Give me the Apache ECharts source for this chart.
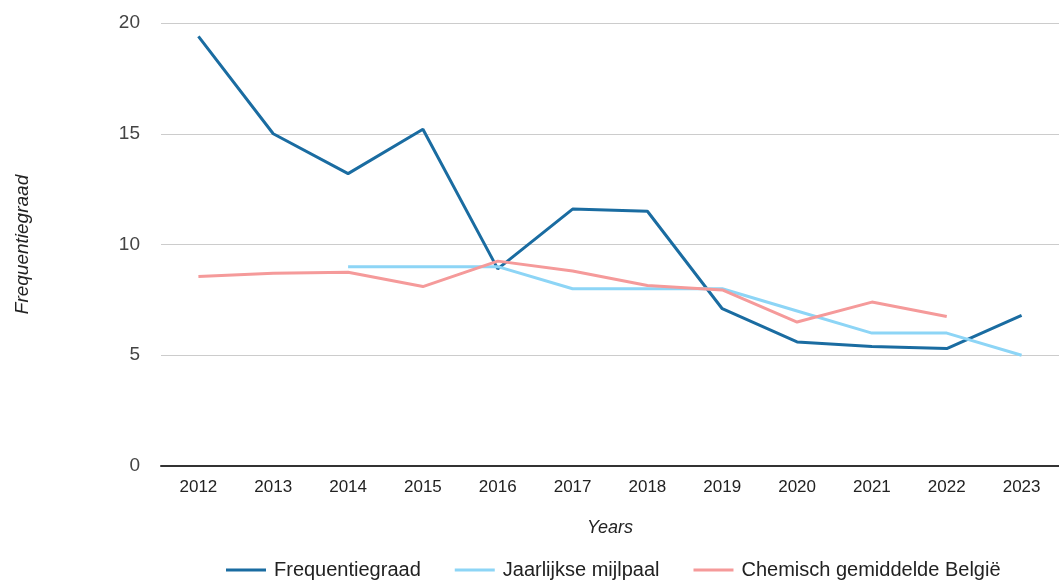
<!DOCTYPE html>
<html>
<head>
<meta charset="UTF-8">
<title>Frequentiegraad</title>
<script src="https://cdn.jsdelivr.net/npm/echarts@6/dist/echarts.min.js"></script>
<style>
  html, body { margin: 0; padding: 0; background: #fff; }
  #main { width: 1059px; height: 582px; }
</style>
</head>
<body>
<div id="main"></div>
<script>
// categorieën en reeksen
var years = ['2012', '2013', '2014', '2015', '2016', '2017', '2018', '2019', '2020', '2021', '2022', '2023'];
var frequentiegraad = [19.4, 15.0, 13.2, 15.2, 8.9, 11.6, 11.5, 7.1, 5.6, 5.4, 5.3, 6.8];
var mijlpaal = [null, null, 9, 9, 9, 8, 8, 8, 7, 6, 6, 5];
var chemischBelgie = [8.55, 8.7, 8.75, 8.1, 9.25, 8.8, 8.15, 7.95, 6.5, 7.4, 6.75, null];
var yTicks = [0, 5, 10, 15, 20];

var myChart = echarts.init(document.getElementById('main'));

var font = 'Liberation Sans, Arial, sans-serif';

function lineSeries(name, data, color) {
    return {
        name: name,
        type: 'line',
        data: data,
        symbol: 'none',
        connectNulls: false,
        lineStyle: { width: 3, color: color },
        itemStyle: { color: color }
    };
}

myChart.setOption({
    animation: false,
    grid: {
        left: 161,
        top: 23,
        width: 906,
        bottom: 116
    },
    legend: {
        left: 226,
        top: 560,
        padding: 0,
        icon: 'rect',
        itemWidth: 40,
        itemHeight: 3,
        itemGap: 34,
        textStyle: { fontFamily: font, fontSize: 20, color: '#222', padding: [0, 0, 0, 3] },
        data: ['Frequentiegraad', 'Jaarlijkse mijlpaal', 'Chemisch gemiddelde België']
    },
    xAxis: {
        type: 'category',
        data: years,
        boundaryGap: true,
        name: 'Years',
        nameLocation: 'middle',
        nameGap: 53,
        nameTextStyle: { fontFamily: font, fontSize: 18, fontStyle: 'italic', color: '#222' },
        axisLine: { lineStyle: { color: '#333', width: 2 } },
        axisTick: { show: false },
        axisLabel: { fontFamily: font, fontSize: 17, color: '#222', margin: 13 }
    },
    yAxis: {
        type: 'value',
        min: yTicks[0],
        max: yTicks[yTicks.length - 1],
        interval: 5,
        name: 'Frequentiegraad',
        nameLocation: 'middle',
        nameGap: 129,
        nameTextStyle: { fontFamily: font, fontSize: 19, fontStyle: 'italic', color: '#222' },
        axisLine: { show: false },
        axisTick: { show: false },
        axisLabel: { fontFamily: font, fontSize: 19, color: '#444', margin: 21 },
        splitLine: { lineStyle: { color: '#cccccc', width: 1 } }
    },
    series: [
        lineSeries('Frequentiegraad', frequentiegraad, '#1a6ca1'),
        lineSeries('Jaarlijkse mijlpaal', mijlpaal, '#8dd5f6'),
        lineSeries('Chemisch gemiddelde België', chemischBelgie, '#f59a9a')
    ]
});
</script>
</body>
</html>
